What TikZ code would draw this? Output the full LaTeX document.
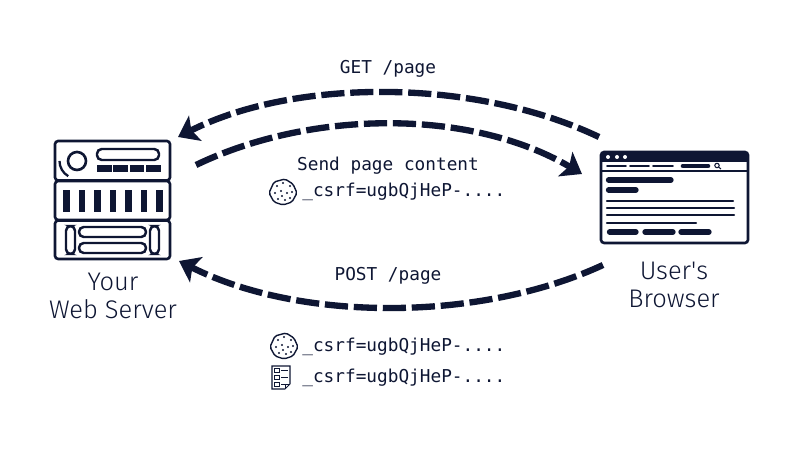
\documentclass[tikz,border=0pt]{standalone}
\usepackage{fontspec}
\setmainfont{Fira Sans Light}
\setmonofont{DejaVu Sans Mono}
\usepackage{tikz}
\usetikzlibrary{arrows.meta}
\definecolor{inkblue}{HTML}{0E1633}
\tikzset{
    flowarrow/.style={line width=3.6pt, inkblue, dash pattern=on 13.2pt off 3.3pt,
        -{Stealth[length=11pt,width=16pt,inset=2.5pt]}},
    codetext/.style={font=\ttfamily\fontsize{10.1}{12}\selectfont, inkblue, inner sep=0pt},
    hostlabel/.style={font=\fontsize{14.5}{15.6}\selectfont, inkblue, align=center, inner sep=0pt},
    iconline/.style={line width=1.5pt, inkblue, rounded corners=1.8pt},
    capsule/.style={line width=1.4pt, inkblue, rounded corners=2.7pt},
    pagebar/.style={line width=3pt, inkblue, line cap=round},
    pagerule/.style={line width=1.4pt, inkblue, line cap=round},
    cookiedot/.style={inkblue},
}
\begin{document}
\begin{tikzpicture}[x=0.2mm, y=-0.2mm]
\useasboundingbox (0,0) rectangle (800,450);

% Server
\draw[iconline] (55,141) rectangle (170,180.5);
\draw[iconline] (55,181) rectangle (170,220);
\draw[iconline] (55,220.5) rectangle (170,259);
\draw[inkblue, line width=1.5pt] (77,161) circle (9);
\draw[inkblue, line width=1.3pt] (59.5,161) arc[start angle=180, end angle=120, radius=17.5];
\draw[capsule] (97,149) rectangle (159,160);
\foreach \x in {97,113,129.5,146}
    \fill[inkblue] (\x,165) rectangle ++(14.5,7);
\foreach \x in {63,78.5,94,109.5,125,140.5,156}
    \fill[inkblue] (\x,190) rectangle ++(6.5,22);
\draw[capsule] (66,226) rectangle (75,254);
\draw[capsule] (150,226) rectangle (159,254);
\draw[capsule] (79,227) rectangle (146,237);
\draw[capsule] (79,243) rectangle (146,253);
\coordinate (server in) at (178,137);
\coordinate (server out) at (196,165);
\coordinate (server post) at (179,261);

% Browser
\draw[iconline, fill=white] (601,152) rectangle (748,243);
\fill[inkblue, rounded corners=1.8pt] (601,152) rectangle (748,162);
\fill[inkblue] (601,159) rectangle (748,162);
\foreach \x in {608,617,625}
    \fill[white] (\x,157) circle (2);
\draw[inkblue, line width=1.4pt] (601,171) -- (748,171);
\foreach \x/\y in {607/626,630/649,653/673}
    \draw[inkblue, line width=1.1pt, line cap=round] (\x,166) -- (\y,166);
\draw[inkblue, line width=2.6pt, line cap=round] (683,166) -- (708,166);
\draw[inkblue, line width=0.6pt] (717,165.5) circle (2.2) (718.7,167.2) -- (721,169);
\draw[pagebar] (608.5,180) -- (671,180);
\draw[pagebar] (608.5,190) -- (636,190);
\draw[pagerule] (607,201) -- (733,201);
\draw[pagerule] (607,208) -- (734,208);
\draw[pagerule] (607,215) -- (734,215);
\draw[pagerule] (607,223) -- (696,223);
\foreach \x/\y in {609.5/636,645/673,681/709}
    \draw[pagebar] (\x,232) -- (\y,232);
\coordinate (browser in) at (582,174);
\coordinate (browser out) at (599,137);
\coordinate (browser post) at (603,265);

% Etiquetes
\node[hostlabel] (server label) at (113,296) {Your\\Web Server};
\node[hostlabel] (browser label) at (674,285) {User\textquotesingle s\\Browser};

% Fletxes
\draw[flowarrow] (browser out) .. controls (475,78) and (295,78) .. (server in);
\draw[flowarrow] (server out) .. controls (310,110) and (470,108) .. (browser in);
\draw[flowarrow] (browser post) .. controls (480,322) and (300,322) .. (server post);

% Textos
\node[codetext] (get label) at (388,69) {GET /page};
\node[codetext] (send label) at (388,166) {Send page content};
\node[codetext, anchor=west] (send csrf) at (302,192) {\_csrf=ugbQjHeP-....};
\node[codetext] (post label) at (388,276) {POST /page};
\node[codetext, anchor=west] (post cookie) at (302,347) {\_csrf=ugbQjHeP-....};
\node[codetext, anchor=west] (post form) at (302,378) {\_csrf=ugbQjHeP-....};

% Galetes
\foreach \cx/\cy in {283/192,284/346} {
    \draw[inkblue, line width=0.8pt, rounded corners=1pt]
        (\cx-14,\cy+1) -- (\cx-9,\cy-10) -- (\cx+2,\cy-13) -- (\cx+10,\cy-8)
        -- (\cx+14,\cy+1) -- (\cx+9,\cy+10) -- (\cx,\cy+13) -- (\cx-9,\cy+10) -- cycle;
    \foreach \dx/\dy in {-6/-6,0/-9,7/-6,-8/1,-2/-1,4/1,9/0,-5/7,2/8,7/6,-1/4}
        \fill[cookiedot] (\cx+\dx,\cy+\dy) circle (1.1);
}

% Formulari
\draw[inkblue, line width=0.6pt] (272,366) -- (290,366) -- (290,384) -- (285,389) -- (272,389) -- cycle;
\draw[inkblue, line width=0.45pt] (285,389) -- (285,384) -- (290,384);
\foreach \y in {370,377,384} {
    \draw[inkblue, line width=0.45pt] (274.5,\y-1.5) rectangle ++(4.5,3.5);
    \draw[inkblue, line width=0.45pt] (281,\y) -- (288,\y);
}
\end{tikzpicture}
\end{document}
